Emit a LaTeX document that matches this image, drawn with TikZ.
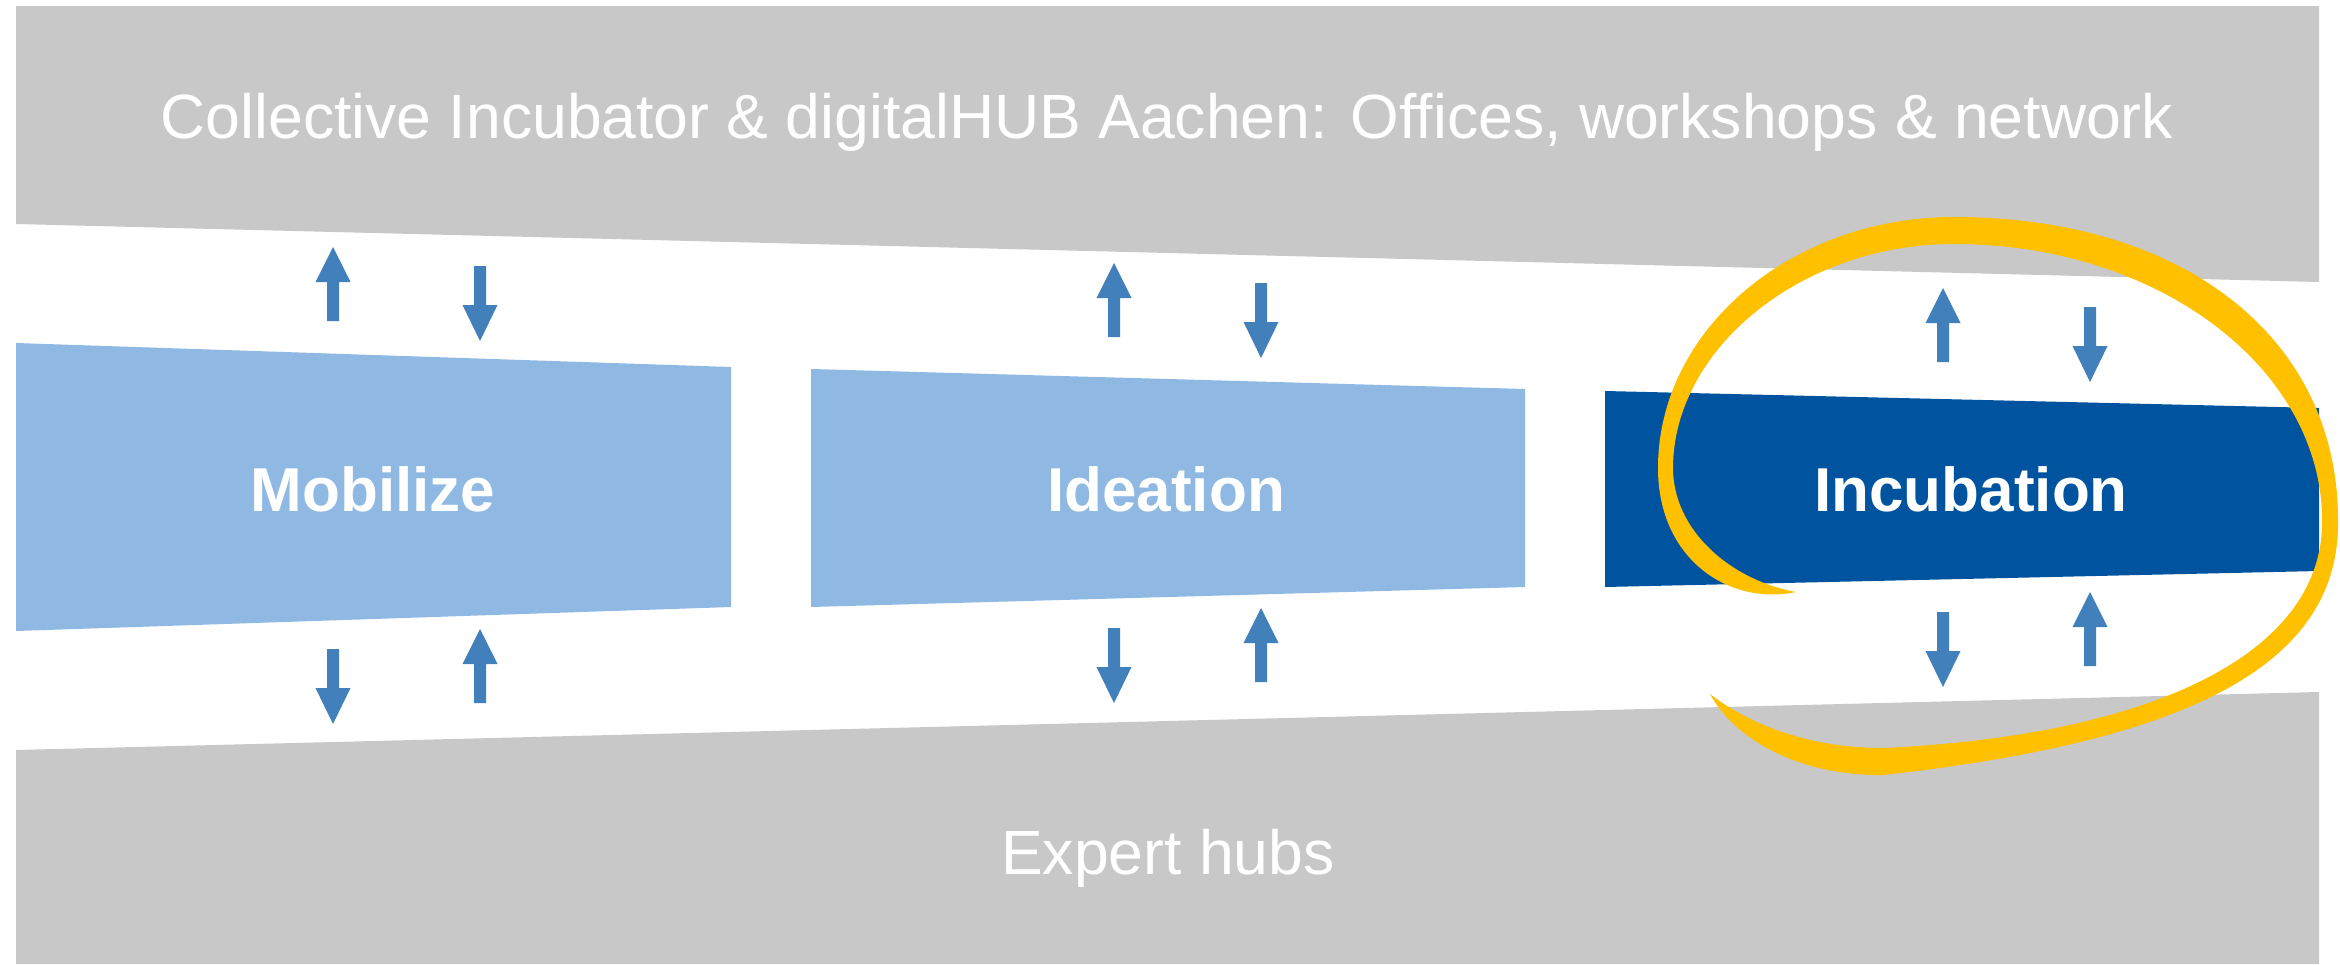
\documentclass[tikz,border=0pt]{standalone}
\usepackage{fontspec}
\setmainfont{Liberation Sans}
\definecolor{bandgray}{RGB}{200,200,200}
\definecolor{lightblue}{RGB}{143,185,227}
\definecolor{darkblue}{RGB}{0,84,159}
\definecolor{arrowblue}{RGB}{65,128,186}
\definecolor{swoosh}{RGB}{255,192,0}
\newcommand{\UpArr}[2]{\fill[arrowblue] (#1,#2) -- ++(17.5,35) -- ++(-11.5,0) -- ++(0,39) -- ++(-12,0) -- ++(0,-39) -- ++(-11.5,0) -- cycle;}
\newcommand{\DownArr}[2]{\fill[arrowblue] (#1-6,#2) -- ++(12,0) -- ++(0,39) -- ++(11.5,0) -- ++(-17.5,36) -- ++(-17.5,-36) -- ++(11.5,0) -- cycle;}
\begin{document}
\begin{tikzpicture}[x=1pt,y=-1pt,
  bandtext/.style={text=white,font=\fontsize{62.5}{70}\selectfont,anchor=base,inner sep=0pt},
  boxtext/.style={text=white,font=\fontsize{62}{70}\selectfont\bfseries,anchor=base,inner sep=0pt}]
\useasboundingbox (0,0) rectangle (2340,964);
% bands
\fill[bandgray] (16,6) -- (2319,6) -- (2319,282) -- (16,224) -- cycle;
\fill[bandgray] (16,750) -- (2319,692) -- (2319,964) -- (16,964) -- cycle;
% phase boxes
\fill[lightblue] (16,343) -- (731,367) -- (731,607) -- (16,631) -- cycle;
\fill[lightblue] (811,369) -- (1525,389) -- (1525,587) -- (811,607) -- cycle;
\fill[darkblue] (1605,391) -- (2319,408) -- (2319,571) -- (1605,587) -- cycle;
% texts
\node[bandtext] (hub) at (1167,138) {Collective Incubator \& digitalHUB Aachen: Offices, workshops \& network};
\node[bandtext] (expert) at (1168,874) {Expert hubs};
\node[boxtext] (mob) at (373,511) {Mobilize};
\node[boxtext] (idea) at (1166,511) {Ideation};
\node[boxtext] (incu) at (1971,511) {Incubation};
% arrows upper
\UpArr{333}{247}
\UpArr{1114}{263}
\UpArr{1943}{288}
\DownArr{480}{266}
\DownArr{1261}{283}
\DownArr{2090}{307}
% arrows lower
\DownArr{333}{649}
\DownArr{1114}{628}
\DownArr{1943}{612}
\UpArr{480}{629}
\UpArr{1261}{608}
\UpArr{2090}{592}
% swoosh (outer edge, then inner edge back)
\fill[swoosh]
  (1796,592) .. controls (1730,606) and (1658,560) .. (1658,468)
  .. controls (1658,330) and (1791,217) .. (1954,217)
  .. controls (2184,217) and (2338,338) .. (2338,520)
  .. controls (2340,660) and (2200,740) .. (1883,775)
  .. controls (1800,776) and (1735,740) .. (1710,694)
  .. controls (1750,725) and (1810,748) .. (1883,748)
  .. controls (2160,735) and (2324,650) .. (2322,520)
  .. controls (2322,370) and (2160,244) .. (1954,244)
  .. controls (1800,244) and (1673,350) .. (1673,468)
  .. controls (1673,530) and (1730,580) .. (1796,592) -- cycle;
\end{tikzpicture}
\end{document}
